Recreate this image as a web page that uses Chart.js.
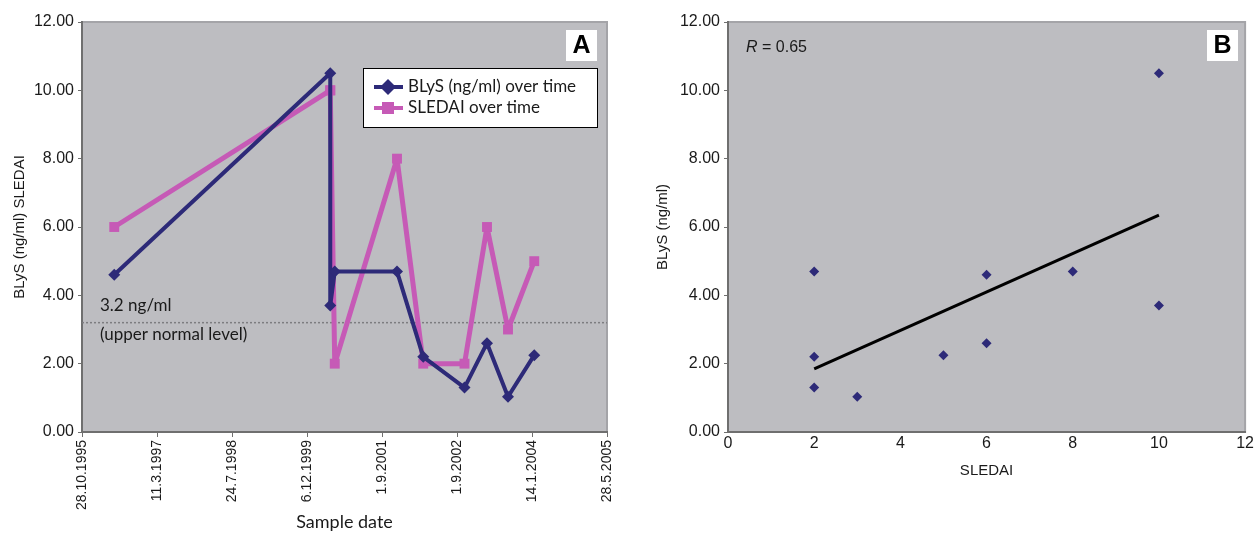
<!DOCTYPE html>
<html>
<head>
<meta charset="utf-8">
<script src="https://cdn.jsdelivr.net/npm/chart.js@4.4.1/dist/chart.umd.min.js"></script>
<style>
  body { margin: 0; background: #fff; width: 1256px; height: 533px; overflow: hidden; position: relative; }
  .panel { position: absolute; top: 0; width: 628px; height: 533px; }
</style>
</head>
<body>
<div class="panel" style="left:0"><canvas id="chartA" width="628" height="533"></canvas></div>
<div class="panel" style="left:628px"><canvas id="chartB" width="628" height="533"></canvas></div>
<script>
// Panel A: posicion de cada muestra sobre el eje de fechas
var fechaPos = [0.43, 3.31, 3.31, 3.37, 4.2, 4.55, 5.1, 5.4, 5.68, 6.03];
var blys = [4.6, 10.5, 3.7, 4.7, 4.7, 2.2, 1.3, 2.6, 1.03, 2.25];
var sledai = [6, 10, 10, 2, 8, 2, 2, 6, 3, 5];
var fechas = ['28.10.1995', '11.3.1997', '24.7.1998', '6.12.1999', '1.9.2001', '1.9.2002', '14.1.2004', '28.5.2005'];
var limiteNormal = 3.2;

// Panel B: recta de tendencia
var tendenciaX = [2, 10];
var tendenciaY = [1.85, 6.35];

var azul = '#2d2a78';
var rosa = '#c65ab6';
var fondoGris = '#bdbdc1';
var ejeColor = '#6f6f6f';
var sans = '"Liberation Sans", Arial, sans-serif';
var humanist = 'Lato, "Noto Sans", sans-serif';

Chart.defaults.animation = false;
Chart.defaults.color = '#1a1a1a';

// Fondo gris del area de trazado
var fondoPlugin = {
    id: 'fondo',
    beforeDraw: function(chart) {
        var a = chart.chartArea, ctx = chart.ctx;
        ctx.save();
        ctx.fillStyle = fondoGris;
        ctx.fillRect(a.left, a.top, a.right - a.left, a.bottom - a.top);
        ctx.strokeStyle = '#a4a4a8';
        ctx.lineWidth = 2;
        ctx.strokeRect(a.left, a.top, a.right - a.left, a.bottom - a.top);
        ctx.restore();
    }
};

function cajaLetra(ctx, x, y, letra) {
    ctx.save();
    ctx.fillStyle = '#fff';
    ctx.fillRect(x, y, 31, 31);
    ctx.fillStyle = '#000';
    ctx.font = 'bold 25px ' + sans;
    ctx.textAlign = 'center';
    ctx.textBaseline = 'middle';
    ctx.fillText(letra, x + 15.5, y + 16.5);
    ctx.restore();
}

// Linea punteada de 3.2 ng/ml y sus textos
var limitePlugin = {
    id: 'limite',
    beforeDatasetsDraw: function(chart) {
        var ctx = chart.ctx, a = chart.chartArea;
        var y = chart.scales.y.getPixelForValue(limiteNormal);
        ctx.save();
        ctx.strokeStyle = '#7d7d80';
        ctx.lineWidth = 1.5;
        ctx.setLineDash([2, 2]);
        ctx.beginPath();
        ctx.moveTo(a.left, y);
        ctx.lineTo(a.right, y);
        ctx.stroke();
        ctx.setLineDash([]);
        ctx.fillStyle = '#1a1a1a';
        ctx.font = '17px ' + humanist;
        ctx.textBaseline = 'middle';
        ctx.fillText('3.2 ng/ml', a.left + 18, y - 17);
        ctx.fillText('(upper normal level)', a.left + 18, y + 12);
        ctx.restore();
    }
};

// Leyenda dentro del area de trazado
var leyendaPlugin = {
    id: 'leyendaA',
    afterDraw: function(chart) {
        var ctx = chart.ctx;
        ctx.save();
        ctx.fillStyle = '#fff';
        ctx.fillRect(363, 68, 234, 59);
        ctx.strokeStyle = '#000';
        ctx.lineWidth = 1;
        ctx.strokeRect(363.5, 68.5, 234, 59);
        var filas = [87, 108];
        chart.data.datasets.forEach(function(ds, i) {
            var y = filas[i];
            ctx.strokeStyle = ds.borderColor;
            ctx.fillStyle = ds.borderColor;
            ctx.lineWidth = 4;
            ctx.beginPath();
            ctx.moveTo(374, y);
            ctx.lineTo(403, y);
            ctx.stroke();
            if (ds.pointStyle === 'rectRot') {
                ctx.beginPath();
                ctx.moveTo(388, y - 8);
                ctx.lineTo(396, y);
                ctx.lineTo(388, y + 8);
                ctx.lineTo(380, y);
                ctx.closePath();
                ctx.fill();
            } else {
                ctx.fillRect(382, y - 6, 12, 12);
            }
            ctx.fillStyle = '#1a1a1a';
            ctx.font = '17px ' + humanist;
            ctx.textBaseline = 'middle';
            ctx.fillText(ds.label, 408, y);
        });
        ctx.restore();
        cajaLetra(ctx, 566, 30, 'A');
    }
};

new Chart(document.getElementById('chartA'), {
    type: 'line',
    data: {
        datasets: [{
            label: 'BLyS (ng/ml) over time',
            data: fechaPos.map(function(x, i) { return { x: x, y: blys[i] }; }),
            borderColor: azul,
            backgroundColor: azul,
            borderWidth: 4,
            borderJoinStyle: 'round',
            pointStyle: 'rectRot',
            pointRadius: 6,
            pointBorderWidth: 0
        }, {
            label: 'SLEDAI over time',
            data: fechaPos.map(function(x, i) { return { x: x, y: sledai[i] }; }),
            borderColor: rosa,
            backgroundColor: rosa,
            borderWidth: 5,
            borderJoinStyle: 'round',
            pointStyle: 'rect',
            pointRadius: 7,
            pointBorderWidth: 0
        }]
    },
    options: {
        responsive: false,
        layout: { padding: { left: 9, top: 22, right: 21, bottom: 0 } },
        plugins: { legend: { display: false }, tooltip: { enabled: false } },
        scales: {
            x: {
                type: 'linear',
                min: 0,
                max: 7,
                afterFit: function(s) { s.height = 101; },
                border: { color: ejeColor, width: 2 },
                grid: { drawOnChartArea: false, tickLength: 5, color: ejeColor },
                ticks: {
                    stepSize: 1,
                    maxRotation: 90,
                    minRotation: 90,
                    autoSkip: false,
                    padding: 3,
                    font: { family: sans, size: 14 },
                    callback: function(v) { return fechas[v]; }
                },
                title: { display: true, text: 'Sample date', font: { family: humanist, size: 18 }, padding: { top: 0, bottom: 0 } }
            },
            y: {
                min: 0,
                max: 12,
                afterFit: function(s) { s.width = 73; },
                border: { color: ejeColor, width: 2 },
                grid: { drawOnChartArea: false, tickLength: 4, color: ejeColor },
                ticks: {
                    stepSize: 2,
                    padding: 4,
                    font: { family: sans, size: 16 },
                    callback: function(v) { return v.toFixed(2); }
                },
                title: { display: true, text: 'BLyS (ng/ml) SLEDAI', font: { family: sans, size: 15 }, padding: 2 }
            }
        }
    },
    plugins: [fondoPlugin, limitePlugin, leyendaPlugin]
});

// Panel B
var rPlugin = {
    id: 'textoB',
    afterDraw: function(chart) {
        var ctx = chart.ctx;
        ctx.save();
        ctx.fillStyle = '#1a1a1a';
        ctx.textBaseline = 'middle';
        ctx.font = 'italic 16px ' + sans;
        ctx.fillText('R', 118, 48);
        var w = ctx.measureText('R').width;
        ctx.font = '16px ' + sans;
        ctx.fillText(' = 0.65', 118 + w, 48);
        ctx.restore();
        cajaLetra(ctx, 579, 30, 'B');
    }
};

new Chart(document.getElementById('chartB'), {
    type: 'scatter',
    data: {
        datasets: [{
            label: 'BLyS vs SLEDAI',
            data: sledai.map(function(s, i) { return { x: s, y: blys[i] }; }),
            backgroundColor: azul,
            borderColor: azul,
            pointStyle: 'rectRot',
            pointRadius: 5,
            pointBorderWidth: 0
        }, {
            label: 'Tendencia',
            type: 'line',
            data: tendenciaX.map(function(x, i) { return { x: x, y: tendenciaY[i] }; }),
            borderColor: '#000',
            borderWidth: 3,
            pointRadius: 0
        }]
    },
    options: {
        responsive: false,
        layout: { padding: { left: 24, top: 22, right: 9, bottom: 53 } },
        plugins: { legend: { display: false }, tooltip: { enabled: false } },
        scales: {
            x: {
                type: 'linear',
                min: 0,
                max: 12,
                afterFit: function(s) { s.height = 48; },
                border: { color: ejeColor, width: 2 },
                grid: { drawOnChartArea: false, drawTicks: false },
                ticks: { stepSize: 2, padding: 2, font: { family: sans, size: 16 } },
                title: { display: true, text: 'SLEDAI', font: { family: sans, size: 15 }, padding: 0 }
            },
            y: {
                min: 0,
                max: 12,
                afterFit: function(s) { s.width = 76; },
                border: { color: ejeColor, width: 2 },
                grid: { drawOnChartArea: false, tickLength: 4, color: ejeColor },
                ticks: {
                    stepSize: 2,
                    padding: 4,
                    font: { family: sans, size: 16 },
                    callback: function(v) { return v.toFixed(2); }
                },
                title: { display: true, text: 'BLyS (ng/ml)', font: { family: sans, size: 15 }, padding: 2 }
            }
        }
    },
    plugins: [fondoPlugin, rPlugin]
});
</script>
</body>
</html>
